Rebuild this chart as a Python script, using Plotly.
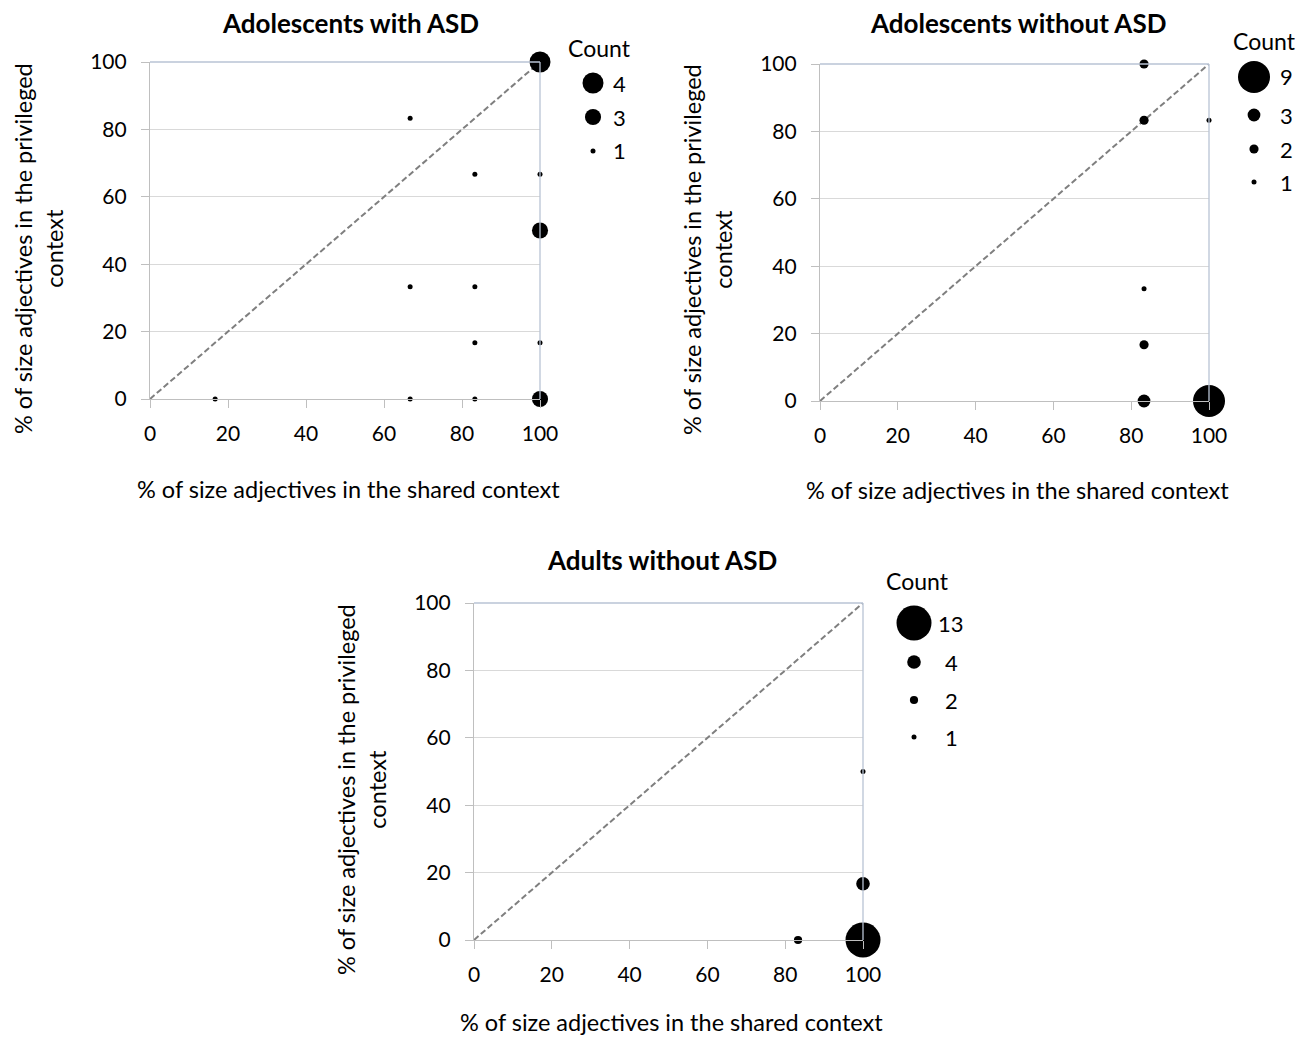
import plotly.graph_objects as go

# page is drawn with the browser's 8px body margin, so the figure is 16px smaller
OFF = 8
W, H = 1292, 1027

# ---------------- data ----------------
titles = ["Adolescents with ASD", "Adolescents without ASD", "Adults without ASD"]

asd_shared = [100, 66.7, 83.3, 100, 100, 66.7, 83.3, 83.3, 100, 16.7, 66.7, 83.3, 100]
asd_privileged = [100, 83.3, 66.7, 66.7, 50, 33.3, 33.3, 16.7, 16.7, 0, 0, 0, 0]
asd_count = [4, 1, 1, 1, 3, 1, 1, 1, 1, 1, 1, 1, 3]

td_shared = [83.3, 83.3, 100, 83.3, 83.3, 83.3, 100]
td_privileged = [100, 83.3, 83.3, 33.3, 16.7, 0, 0]
td_count = [2, 2, 1, 1, 2, 3, 9]

adult_shared = [100, 100, 83.3, 100]
adult_privileged = [50, 16.7, 0, 0]
adult_count = [1, 4, 2, 13]

tick_vals = [0, 20, 40, 60, 80, 100]
x_title = "% of size adjectives in the shared context"
y_title = "% of size adjectives in the privileged<br>context"
legend_title = "Count"

# ---------------- layout helpers (screen pixels -> paper) ----------------
def px(x):
    return (x - OFF) / W

def py(y):
    return 1 - (y - OFF) / H

panels = [
    dict(data=(asd_shared, asd_privileged, asd_count), xd=(150, 540), yd=(399, 62), dmax=21,
         title=(350, 23), xt=(348, 489), yt=(38, 249),
         leg_title=(599, 48), leg_x=593, leg_lx=619, leg_y=[83, 117, 151]),
    dict(data=(td_shared, td_privileged, td_count), xd=(820, 1209), yd=(401, 64), dmax=32,
         title=(1018, 23), xt=(1017, 490), yt=(707, 250),
         leg_title=(1264, 41), leg_x=1254, leg_lx=1286, leg_y=[77, 115, 149, 182]),
    dict(data=(adult_shared, adult_privileged, adult_count), xd=(474, 863), yd=(940, 603), dmax=35,
         title=(662, 560), xt=(671, 1022), yt=(361, 790),
         leg_title=(917, 581), leg_x=914, leg_lx=951, leg_y=[623, 662, 700, 737]),
]

FONT = "Lato, 'Open Sans', sans-serif"
GRID = "#d9d9d9"
AXIS = "#bfbfbf"
BORDER = "#b8c3d4"

def diam(c, cmax, dmax):
    if cmax <= 1:
        return 5
    return 5 + (dmax - 5) * ((c - 1) / (cmax - 1)) ** 0.9

fig = go.Figure()
annotations = []
shapes = []

for i, p in enumerate(panels, start=1):
    xs, ys, cs = p["data"]
    cmax = max(cs)
    xa = "x" if i == 1 else f"x{i}"
    ya = "y" if i == 1 else f"y{i}"
    # diagonal reference line
    fig.add_trace(go.Scatter(x=[0, 100], y=[0, 100], mode="lines", xaxis=xa, yaxis=ya,
                             line=dict(color="#7f7f7f", width=2, dash="6px,3px"),
                             showlegend=False, hoverinfo="skip"))
    # bubbles
    fig.add_trace(go.Scatter(x=xs, y=ys, mode="markers", xaxis=xa, yaxis=ya,
                             marker=dict(color="black", opacity=1,
                                         size=[diam(c, cmax, p["dmax"]) for c in cs],
                                         line=dict(width=0)),
                             cliponaxis=False, showlegend=False,
                             text=[f"Count: {c}" for c in cs]))
    axk = "xaxis" if i == 1 else f"xaxis{i}"
    ayk = "yaxis" if i == 1 else f"yaxis{i}"
    fig.update_layout(**{
        axk: dict(domain=[px(p["xd"][0]), px(p["xd"][1])], range=[0, 100], anchor=ya,
                  tickvals=tick_vals, showgrid=False, zeroline=False,
                  showline=True, linecolor=AXIS, linewidth=1.2,
                  ticks="outside", ticklen=8, tickcolor=AXIS, tickwidth=1.2,
                  tickfont=dict(family=FONT, size=21, color="black"),
                  ticklabelstandoff=8, automargin=False, fixedrange=True),
        ayk: dict(domain=[py(p["yd"][0]), py(p["yd"][1])], range=[0, 100], anchor=xa,
                  tickvals=tick_vals, showgrid=True, gridcolor=GRID, gridwidth=1.2,
                  zeroline=False, showline=True, linecolor=AXIS, linewidth=1.2,
                  ticks="outside", ticklen=8, tickcolor=AXIS, tickwidth=1.2,
                  tickfont=dict(family=FONT, size=21, color="black"),
                  ticklabelstandoff=10, automargin=False, fixedrange=True),
    })
    # top and right border lines
    shapes.append(dict(type="line", xref=f"{xa} domain", yref=f"{ya} domain",
                       x0=0, x1=1, y0=1, y1=1, line=dict(color=BORDER, width=1.3)))
    shapes.append(dict(type="line", xref=f"{xa} domain", yref=f"{ya} domain",
                       x0=1, x1=1, y0=0, y1=1, line=dict(color=BORDER, width=1.3)))
    # titles
    annotations.append(dict(text=f"<b>{titles[i-1]}</b>", x=px(p["title"][0]), y=py(p["title"][1]),
                            xref="paper", yref="paper", showarrow=False, xanchor="center",
                            yanchor="middle", font=dict(family=FONT, size=26, color="black")))
    annotations.append(dict(text=x_title, x=px(p["xt"][0]), y=py(p["xt"][1]),
                            xref="paper", yref="paper", showarrow=False, xanchor="center",
                            yanchor="middle", font=dict(family=FONT, size=23.5, color="black")))
    annotations.append(dict(text=y_title, x=px(p["yt"][0]), y=py(p["yt"][1]), textangle=-90,
                            xref="paper", yref="paper", showarrow=False, xanchor="center",
                            yanchor="middle", font=dict(family=FONT, size=23.5, color="black")))
    # legend
    annotations.append(dict(text=legend_title, x=px(p["leg_title"][0]), y=py(p["leg_title"][1]),
                            xref="paper", yref="paper", showarrow=False, xanchor="center",
                            yanchor="middle", font=dict(family=FONT, size=23, color="black")))
    levels = sorted(set(cs), reverse=True)
    fig.add_trace(go.Scatter(x=[p["leg_x"]] * len(levels), y=p["leg_y"][:len(levels)],
                             mode="markers", xaxis="x4", yaxis="y4",
                             marker=dict(color="black", opacity=1,
                                         size=[diam(c, cmax, p["dmax"]) for c in levels],
                                         line=dict(width=0)),
                             cliponaxis=False, showlegend=False, hoverinfo="skip"))
    for lv, ly in zip(levels, p["leg_y"]):
        annotations.append(dict(text=str(lv), x=px(p["leg_lx"]), y=py(ly),
                                xref="paper", yref="paper", showarrow=False, xanchor="center",
                                yanchor="middle", font=dict(family=FONT, size=22, color="black")))

# pixel-coordinate overlay used for the bubble-size keys
fig.update_layout(
    xaxis4=dict(domain=[0, 1], range=[OFF, OFF + W], visible=False, fixedrange=True, anchor="y4",
                automargin=False),
    yaxis4=dict(domain=[0, 1], range=[OFF + H, OFF], visible=False, fixedrange=True, anchor="x4",
                automargin=False),
)

fig.update_layout(width=W, height=H, margin=dict(l=0, r=0, t=0, b=0, autoexpand=False),
                  paper_bgcolor="white", plot_bgcolor="rgba(0,0,0,0)",
                  showlegend=False, annotations=annotations, shapes=shapes,
                  font=dict(family=FONT, color="black"))

fig.write_html("out.html")
